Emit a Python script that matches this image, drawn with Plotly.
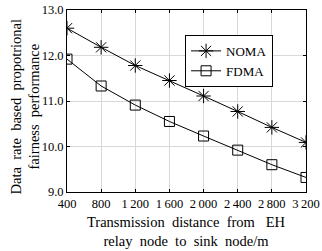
import plotly.graph_objects as go

distance = [400, 800, 1200, 1600, 2000, 2400, 2800, 3200]
noma = [12.60, 12.18, 11.78, 11.45, 11.11, 10.77, 10.42, 10.09]
fdma = [11.92, 11.33, 10.91, 10.55, 10.23, 9.92, 9.60, 9.32]
xtick_vals = [400, 800, 1200, 1600, 2000, 2400, 2800, 3200]
xtick_text = ["400", "800", "1\u2009200", "1\u2009600", "2\u2009000", "2\u2009400", "2\u2009800", "3\u2009200"]
ytick_vals = [9.0, 10.0, 11.0, 12.0, 13.0]
xtitle_lines = ["Transmission  distance  from   EH", "relay  node  to  sink  node/m"]
ytitle_lines = ["Data  rate  based  propotrional", "fairness  performance"]

font = "Liberation Serif"


def spaced(s):
    return s.replace("  ", "\u00a0 ")


fig = go.Figure()
fig.add_trace(go.Scatter(x=distance, y=noma, name="NOMA", mode="lines+markers",
                         line=dict(color="black", width=1),
                         marker=dict(symbol="asterisk-open", size=12, color="black",
                                     line=dict(color="black", width=1))))
fig.add_trace(go.Scatter(x=distance, y=fdma, name="FDMA", mode="lines+markers",
                         line=dict(color="black", width=1),
                         marker=dict(symbol="square-open", size=10, color="black",
                                     line=dict(color="black", width=1))))

annotations = [
    dict(text="<br>".join(spaced(s) for s in xtitle_lines), xref="paper", yref="paper",
         x=0.5, y=0, yshift=-39, xanchor="center", yanchor="middle", showarrow=False,
         align="center", font=dict(family=font, size=14.5, color="black")),
    dict(text="<br>".join(spaced(s) for s in ytitle_lines), xref="paper", yref="paper",
         x=0, y=0.47, xshift=-42, xanchor="center", yanchor="middle", showarrow=False,
         textangle=-90, align="center", font=dict(family=font, size=14.5, color="black")),
]

fig.update_layout(
    template="none",
    width=322, height=251,
    margin=dict(l=67, r=16, t=10, b=59),
    paper_bgcolor="white", plot_bgcolor="white",
    font=dict(family=font, size=12, color="black"),
    showlegend=True,
    legend=dict(x=0.494, y=0.863, xanchor="left", yanchor="top",
                bordercolor="black", borderwidth=1, bgcolor="white",
                font=dict(family=font, size=13), tracegroupgap=0,
                itemwidth=30),
    annotations=annotations,
)
fig.update_xaxes(range=[400, 3200], tickvals=xtick_vals, ticktext=xtick_text,
                 automargin=False,
                 showgrid=True, gridcolor="#d9d9d9", gridwidth=1,
                 showline=True, linecolor="black", linewidth=1, mirror="ticks",
                 ticks="inside", ticklen=3, tickcolor="black",
                 tickfont=dict(family=font, size=12.5),
                 zeroline=False)
fig.update_yaxes(range=[9.0, 13.0], tickvals=ytick_vals, tickformat=".1f",
                 automargin=False,
                 showgrid=True, gridcolor="#d9d9d9", gridwidth=1,
                 showline=True, linecolor="black", linewidth=1, mirror="ticks",
                 ticks="inside", ticklen=3, tickcolor="black",
                 tickfont=dict(family=font, size=12.5),
                 zeroline=False)
fig.write_html("out.html", config={"displayModeBar": False},
               post_script="document.body.style.margin='0';")
